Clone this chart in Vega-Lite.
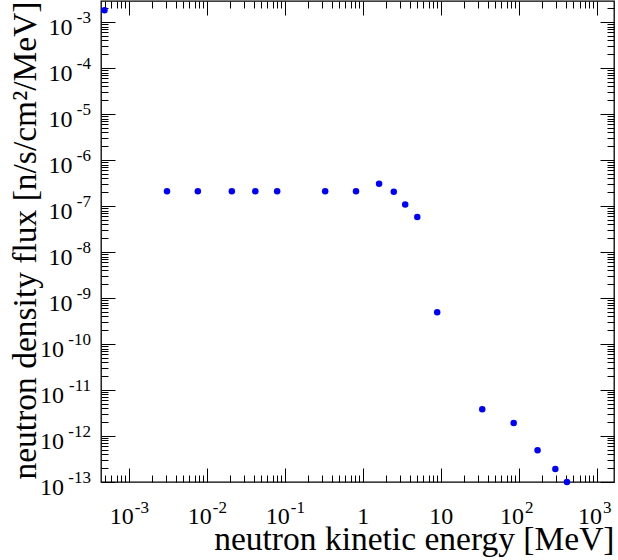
{
  "$schema": "https://vega.github.io/schema/vega-lite/v6.json",
  "width": 513,
  "height": 481,
  "autosize": {"type": "none"},
  "padding": {"left": 101, "top": 1, "right": 4, "bottom": 78},
  "background": "white",
  "config": {
    "view": {"stroke": "black", "strokeWidth": 1.3},
    "axis": {"grid": false, "domain": false, "tickColor": "black", "tickWidth": 1, "labelFont": "Liberation Serif", "titleFont": "Liberation Serif", "labelColor": "black", "titleColor": "black", "titleFontWeight": "normal", "labelOverlap": false, "labelFlush": false, "labelBound": false}
  },
  "datasets": {
    "flux": [
      {"E": 0.00049, "F": 0.00182},
      {"E": 0.0031, "F": 2.1e-7},
      {"E": 0.0077, "F": 2.1e-7},
      {"E": 0.021, "F": 2.1e-7},
      {"E": 0.042, "F": 2.1e-7},
      {"E": 0.08, "F": 2.1e-7},
      {"E": 0.33, "F": 2.1e-7},
      {"E": 0.82, "F": 2.1e-7},
      {"E": 1.62, "F": 3.05e-7},
      {"E": 2.5, "F": 2.05e-7},
      {"E": 3.5, "F": 1.08e-7},
      {"E": 5.0, "F": 5.8e-8},
      {"E": 9.0, "F": 4.9e-10},
      {"E": 34, "F": 3.8e-12},
      {"E": 86, "F": 1.93e-12},
      {"E": 174, "F": 4.9e-13},
      {"E": 294, "F": 1.92e-13},
      {"E": 414, "F": 1.0e-13}
    ]
  },
  "data": {"name": "flux"},
  "resolve": {"axis": {"x": "independent", "y": "independent"}},
  "layer": [
    {
      "mark": {"type": "point", "filled": true, "opacity": 0, "clip": false},
      "encoding": {
        "x": {"field": "E", "type": "quantitative", "scale": {"type": "log", "domain": [0.000442, 1660], "nice": false},
          "axis": {"orient": "bottom", "values": [0.001, 0.01, 0.1, 1, 10, 100, 1000], "labels": false, "ticks": true, "tickSize": 14, "offset": -14, "title": null}},
        "y": {"field": "F", "type": "quantitative", "scale": {"type": "log", "domain": [1e-13, 0.00289], "nice": false},
          "axis": {"orient": "left", "values": [1e-13, 1e-12, 1e-11, 1e-10, 1e-9, 1e-8, 1e-7, 1e-6, 1e-5, 1e-4, 1e-3], "labels": false, "ticks": true, "tickSize": 14, "offset": -14, "title": null}}
      }
    },
    {
      "mark": {"type": "point", "filled": true, "opacity": 0, "clip": false},
      "encoding": {
        "x": {"field": "E", "type": "quantitative",
          "axis": {"orient": "bottom", "values": [0.0005, 0.0006, 0.0007, 0.0008, 0.0009, 0.002, 0.003, 0.004, 0.005, 0.006, 0.007, 0.008, 0.009, 0.02, 0.03, 0.04, 0.05, 0.06, 0.07, 0.08, 0.09, 0.2, 0.3, 0.4, 0.5, 0.6, 0.7, 0.8, 0.9, 2, 3, 4, 5, 6, 7, 8, 9, 20, 30, 40, 50, 60, 70, 80, 90, 200, 300, 400, 500, 600, 700, 800, 900], "labels": false, "ticks": true, "tickSize": 7, "offset": -7, "title": null}},
        "y": {"field": "F", "type": "quantitative",
          "axis": {"orient": "left", "values": [2e-13, 3e-13, 4e-13, 5e-13, 6e-13, 7e-13, 8e-13, 9e-13, 2e-12, 3e-12, 4e-12, 5e-12, 6e-12, 7e-12, 8e-12, 9e-12, 2e-11, 3e-11, 4e-11, 5e-11, 6e-11, 7e-11, 8e-11, 9e-11, 2e-10, 3e-10, 4e-10, 5e-10, 6e-10, 7e-10, 8e-10, 9e-10, 2e-9, 3e-9, 4e-9, 5e-9, 6e-9, 7e-9, 8e-9, 9e-9, 2e-8, 3e-8, 4e-8, 5e-8, 6e-8, 7e-8, 8e-8, 9e-8, 2e-7, 3e-7, 4e-7, 5e-7, 6e-7, 7e-7, 8e-7, 9e-7, 2e-6, 3e-6, 4e-6, 5e-6, 6e-6, 7e-6, 8e-6, 9e-6, 2e-5, 3e-5, 4e-5, 5e-5, 6e-5, 7e-5, 8e-5, 9e-5, 2e-4, 3e-4, 4e-4, 5e-4, 6e-4, 7e-4, 8e-4, 9e-4, 2e-3], "labels": false, "ticks": true, "tickSize": 7, "offset": -7, "title": null}}
      }
    },
    {
      "mark": {"type": "point", "filled": true, "opacity": 0, "clip": false},
      "encoding": {
        "x": {"field": "E", "type": "quantitative",
          "axis": {"orient": "top", "values": [0.001, 0.01, 0.1, 1, 10, 100, 1000], "labels": false, "ticks": true, "tickSize": 14, "offset": -14, "title": null}},
        "y": {"field": "F", "type": "quantitative",
          "axis": {"orient": "right", "values": [1e-13, 1e-12, 1e-11, 1e-10, 1e-9, 1e-8, 1e-7, 1e-6, 1e-5, 1e-4, 1e-3], "labels": false, "ticks": true, "tickSize": 14, "offset": -14, "title": null}}
      }
    },
    {
      "mark": {"type": "point", "filled": true, "opacity": 0, "clip": false},
      "encoding": {
        "x": {"field": "E", "type": "quantitative",
          "axis": {"orient": "top", "values": [0.0005, 0.0006, 0.0007, 0.0008, 0.0009, 0.002, 0.003, 0.004, 0.005, 0.006, 0.007, 0.008, 0.009, 0.02, 0.03, 0.04, 0.05, 0.06, 0.07, 0.08, 0.09, 0.2, 0.3, 0.4, 0.5, 0.6, 0.7, 0.8, 0.9, 2, 3, 4, 5, 6, 7, 8, 9, 20, 30, 40, 50, 60, 70, 80, 90, 200, 300, 400, 500, 600, 700, 800, 900], "labels": false, "ticks": true, "tickSize": 7, "offset": -7, "title": null}},
        "y": {"field": "F", "type": "quantitative",
          "axis": {"orient": "right", "values": [2e-13, 3e-13, 4e-13, 5e-13, 6e-13, 7e-13, 8e-13, 9e-13, 2e-12, 3e-12, 4e-12, 5e-12, 6e-12, 7e-12, 8e-12, 9e-12, 2e-11, 3e-11, 4e-11, 5e-11, 6e-11, 7e-11, 8e-11, 9e-11, 2e-10, 3e-10, 4e-10, 5e-10, 6e-10, 7e-10, 8e-10, 9e-10, 2e-9, 3e-9, 4e-9, 5e-9, 6e-9, 7e-9, 8e-9, 9e-9, 2e-8, 3e-8, 4e-8, 5e-8, 6e-8, 7e-8, 8e-8, 9e-8, 2e-7, 3e-7, 4e-7, 5e-7, 6e-7, 7e-7, 8e-7, 9e-7, 2e-6, 3e-6, 4e-6, 5e-6, 6e-6, 7e-6, 8e-6, 9e-6, 2e-5, 3e-5, 4e-5, 5e-5, 6e-5, 7e-5, 8e-5, 9e-5, 2e-4, 3e-4, 4e-4, 5e-4, 6e-4, 7e-4, 8e-4, 9e-4, 2e-3], "labels": false, "ticks": true, "tickSize": 7, "offset": -7, "title": null}}
      }
    },
    {
      "mark": {"type": "point", "filled": true, "opacity": 0, "clip": false},
      "encoding": {
        "x": {"field": "E", "type": "quantitative",
          "axis": {"orient": "bottom", "values": [1, 10], "ticks": false, "labelFontSize": 24, "labelPadding": 41, "labelBaseline": "alphabetic", "labelAlign": "center",
            "labelExpr": "datum.value < 5 ? '1' : '10'", "title": null}},
        "y": {"field": "F", "type": "quantitative",
          "axis": {"orient": "left", "values": [1e-13, 1e-12, 1e-11, 1e-10], "ticks": false, "labelFontSize": 24, "labelPadding": 37.5, "labelBaseline": "alphabetic", "labelAlign": "right", "labelOffset": 12,
            "labelExpr": "'10'", "title": null}}
      }
    },
    {
      "mark": {"type": "point", "filled": true, "opacity": 0, "clip": false},
      "encoding": {
        "x": {"field": "E", "type": "quantitative",
          "axis": {"orient": "bottom", "values": [0.001, 0.01, 0.1, 100, 1000], "ticks": false, "labelFontSize": 17, "labelPadding": 30, "labelBaseline": "alphabetic", "labelAlign": "left", "labelOffset": 5.6,
            "labelExpr": "(datum.value < 1 ? '-' : '') + format(abs(round(log(datum.value)/LN10)), 'd')", "title": null}},
        "y": {"field": "F", "type": "quantitative",
          "axis": {"orient": "left", "values": [1e-13, 1e-12, 1e-11, 1e-10, 1e-9, 1e-8, 1e-7, 1e-6, 1e-5, 1e-4, 1e-3], "ticks": false, "labelFontSize": 17, "labelPadding": 10.5, "labelBaseline": "alphabetic", "labelAlign": "right", "labelOffset": 0.5,
            "labelExpr": "'-' + format(abs(round(log(datum.value)/LN10)), 'd')", "title": null}}
      }
    },
    {
      "mark": {"type": "point", "filled": true, "color": "#0000ff", "opacity": 1, "size": 42, "strokeWidth": 0, "clip": false},
      "encoding": {
        "x": {"field": "E", "type": "quantitative",
          "axis": {"orient": "bottom", "values": [0.001, 0.01, 0.1, 100, 1000], "ticks": false, "labelFontSize": 24, "labelPadding": 41, "labelBaseline": "alphabetic", "labelAlign": "center", "labelOffset": -7.4,
            "labelExpr": "'10'",
            "title": "neutron kinetic energy [MeV]", "titleFontSize": 33.5, "titleX": 513, "titleY": 67, "titleAlign": "right", "titleBaseline": "alphabetic", "titleAnchor": null}},
        "y": {"field": "F", "type": "quantitative",
          "axis": {"orient": "left", "values": [1e-9, 1e-8, 1e-7, 1e-6, 1e-5, 1e-4, 1e-3], "ticks": false, "labelFontSize": 24, "labelPadding": 29, "labelBaseline": "alphabetic", "labelAlign": "right", "labelOffset": 12,
            "labelExpr": "'10'",
            "title": "neutron density flux [n/s/cm²/MeV]", "titleFontSize": 33.5, "titleX": -75.5, "titleY": 0, "titleAngle": 270, "titleAlign": "right", "titleBaseline": "middle", "titleAnchor": null}}
      }
    }
  ]
}
